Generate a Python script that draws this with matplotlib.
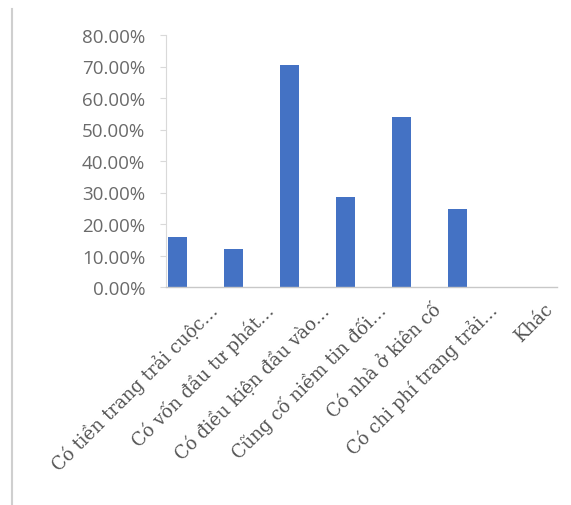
import matplotlib.pyplot as plt
import matplotlib.transforms as mtransforms
from matplotlib.lines import Line2D
from matplotlib.ticker import FuncFormatter, MultipleLocator

# survey answers and share of respondents
categories = [
    "Có tiền trang trải cuộc...",
    "Có vốn đầu tư phát...",
    "Có điều kiện đầu vào...",
    "Cũng cố niềm tin đối...",
    "Có nhà ở kiên cố",
    "Có chi phí trang trải...",
    "Khác",
]
shares = [0.16, 0.121, 0.705, 0.287, 0.54, 0.249, 0.0]

bar_color = "#4472C4"
axis_gray = "#d9d9d9"

fig = plt.figure(figsize=(5.71, 5.06), dpi=100)
ax = fig.add_axes([166 / 571, 218 / 506, (557 - 166) / 571, (288 - 36) / 506])

x = list(range(len(categories)))
ax.bar(x, shares, width=0.34, color=bar_color, zorder=2)

ax.set_ylim(0, 0.8)
ax.set_xlim(-0.21, 6.77)
ax.yaxis.set_major_locator(MultipleLocator(0.1))
ax.yaxis.set_major_formatter(FuncFormatter(lambda v, p: "{:.2f}%".format(v * 100)))

for side in ["top", "right"]:
    ax.spines[side].set_visible(False)
ax.spines["left"].set_color(axis_gray)
ax.spines["bottom"].set_color("#c8c8c8")
ax.spines["left"].set_linewidth(0.8)
ax.spines["bottom"].set_linewidth(1.0)

ax.tick_params(axis="y", length=4, color=axis_gray, pad=11,
               labelsize=13.5, labelcolor="#6a6a6a")
ax.tick_params(axis="x", length=0)
for lab in ax.get_yticklabels():
    lab.set_family("Open Sans")

ax.set_xticks(x)
ax.set_xticklabels(categories, rotation=45, ha="right", va="top",
                   rotation_mode="anchor", family="DejaVu Serif",
                   fontsize=13, color="#555555")
# Excel puts the end of each rotated label a little to the right of its bar
shift = mtransforms.ScaledTranslation(30 / 100, -8 / 100, fig.dpi_scale_trans)
for lab in ax.get_xticklabels():
    lab.set_transform(lab.get_transform() + shift)

# thin frame edge on the left of the picture
fig.add_artist(Line2D([12 / 571, 12 / 571], [0, 1 - 10 / 506],
                      transform=fig.transFigure, color="#cfcfcf", linewidth=1.5))

fig.savefig("out.png", dpi=100)
